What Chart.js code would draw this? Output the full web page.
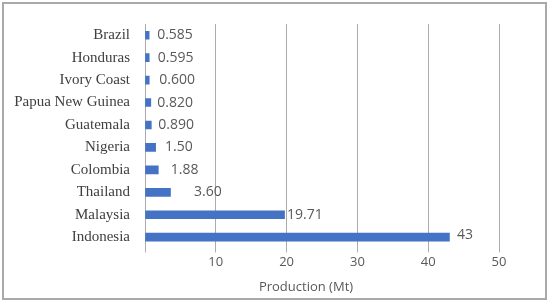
<!DOCTYPE html>
<html>
<head>
<meta charset="utf-8">
<script src="https://cdn.jsdelivr.net/npm/chart.js@4.4.0/dist/chart.umd.min.js"></script>
<style>
  html, body { margin: 0; padding: 0; background: #fff; }
  #wrap { position: relative; width: 550px; height: 304px; }
  #frame { position: absolute; left: 2px; top: 2px; width: 541px; height: 294px; border: 2px solid #a9a9a9; pointer-events: none; }
  canvas { position: absolute; left: 0; top: 0; }
</style>
</head>
<body>
<div id="wrap">
  <canvas id="myChart" width="550" height="304"></canvas>
  <div id="frame"></div>
</div>
<script>
// data, top row first
const countries = ["Brazil", "Honduras", "Ivory Coast", "Papua New Guinea", "Guatemala",
  "Nigeria", "Colombia", "Thailand", "Malaysia", "Indonesia"];
const production = [0.585, 0.595, 0.600, 0.820, 0.890, 1.50, 1.88, 3.60, 19.71, 43];
const valueLabels = ["0.585", "0.595", "0.600", "0.820", "0.890", "1.50", "1.88", "3.60", "19.71", "43"];
const xTicks = [10, 20, 30, 40, 50];
const axisTitle = "Production (Mt)";

// label gaps after the bar end (labels were nudged by hand in the original)
const labelGap = [8, 8.5, 10, 6.5, 7, 9.5, 12.5, 23.5, 2.5, 7.5];

const barLabels = {
  id: "barLabels",
  afterDatasetsDraw(chart) {
    const c = chart.ctx;
    const meta = chart.getDatasetMeta(0);
    c.save();
    c.font = "14px 'Open Sans'";
    c.fillStyle = "#595959";
    c.textAlign = "left";
    c.textBaseline = "middle";
    meta.data.forEach((bar, i) => {
      c.fillText(valueLabels[i], bar.x + labelGap[i], bar.y - (i == 9 ? 2 : 0));
    });
    // axis title, sits a bit left of centre like the original
    const a = chart.chartArea;
    c.font = "13px 'Open Sans'";
    c.textAlign = "center";
    c.fillText(axisTitle, (a.left + a.right) / 2 - 16, 287);
    c.restore();
  },
};

const ctx = document.getElementById("myChart");
const chart = new Chart(ctx, {
  type: "bar",
  data: {
    labels: countries,
    datasets: [
      {
        label: axisTitle,
        data: production,
        backgroundColor: "#4472c4",
        barThickness: 8,
      },
    ],
  },
  options: {
    indexAxis: "y",
    responsive: false,
    animation: false,
    layout: {
      padding: { top: 20, right: 51, bottom: 32, left: 0 },
    },
    plugins: {
      legend: { display: false },
      tooltip: { enabled: false },
    },
    scales: {
      x: {
        min: 0,
        max: 50,
        afterBuildTicks: (scale) => {
          scale.ticks = [0].concat(xTicks).map((v) => ({ value: v }));
        },
        grid: {
          color: "#ababab",
          lineWidth: 1,
          drawTicks: true,
          tickLength: 4,
        },
        border: { display: false },
        ticks: {
          color: "#595959",
          font: { family: "'Open Sans'", size: 13 },
          padding: 2,
          callback: (v) => (v === 0 ? "" : v),
        },
      },
      y: {
        afterFit: (scale) => {
          scale.width = 145;
        },
        grid: { display: false, drawTicks: false },
        border: { display: false },
        ticks: {
          color: "#404040",
          font: { family: "'Liberation Serif'", size: 15 },
          padding: 15,
        },
      },
    },
  },
  plugins: [barLabels],
});
</script>
</body>
</html>
